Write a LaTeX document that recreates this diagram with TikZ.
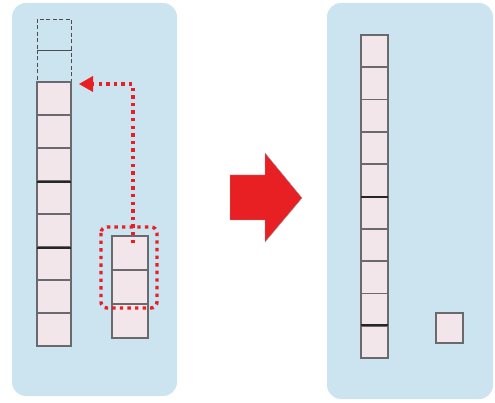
\documentclass[tikz,border=0pt]{standalone}
\usetikzlibrary{arrows.meta}
\definecolor{panelblue}{RGB}{204,227,240}
\definecolor{boxpink}{RGB}{242,230,234}
\definecolor{boxedge}{RGB}{105,105,110}
\definecolor{myred}{RGB}{232,32,36}
\tikzset{
  x=1pt,y=-1pt,
  panel/.style={fill=panelblue,draw=none,rounded corners=14pt},
  cell/.style={draw=boxedge,fill=boxpink,line width=1.6pt},
  ghost/.style={draw=black!70,line width=0.9pt,dash pattern=on 4pt off 2.5pt},
  sep/.style={line width=2.2pt,draw=black!85},
  reddot/.style={draw=myred,line width=3.4pt,dash pattern=on 3.4pt off 4.2pt},
  bigarrow/.style={fill=myred,draw=black!40,line width=0.4pt}
}
\begin{document}
\begin{tikzpicture}
\useasboundingbox (0,0) rectangle (495,403);
% panels
\fill[panel] (12,3) rectangle (177,396);
\fill[panel] (327,3) rectangle (493,399);
% left ghost cells
\draw[ghost] (37,19) rectangle (71,50);
\draw[ghost] (37,50) rectangle (71,82);
% left stack: 8 cells 82..346
\foreach \i in {0,...,7}{
  \path[cell] (37,{82+33*\i}) rectangle (71,{82+33*(\i+1)});
}
\draw[sep] (37,182) -- (71,182);
\draw[sep] (37,248) -- (71,248);
% small stack: 3 cells
\foreach \i in {0,1,2}{
  \path[cell] (112,{236+34*\i}) rectangle (148,{236+34*(\i+1)});
}
\coordinate (mtop) at (133,243);
\coordinate (corner) at (133,84);
\coordinate (tipend) at (90,84);
% red dotted selection
\draw[reddot,rounded corners=6pt] (101,227) rectangle (157,308);
% red dotted arrow
\draw[reddot] (mtop) -- (corner) -- (tipend);
\fill[myred] (79,84) -- (93,76) -- (93,92) -- cycle;
% big arrow
\draw[bigarrow] (230,175) -- (265,175) -- (265,153) -- (302,198) -- (265,242) -- (265,220) -- (230,220) -- cycle;
% right stack: 10 cells 35..358
\foreach \i in {0,...,9}{
  \path[cell] (361,{35+32.3*\i}) rectangle (388,{35+32.3*(\i+1)});
}
\draw[sep] (361,197) -- (388,197);
\draw[sep] (361,325) -- (388,325);
% single cell
\path[cell] (436,313) rectangle (463,343);
\end{tikzpicture}
\end{document}
